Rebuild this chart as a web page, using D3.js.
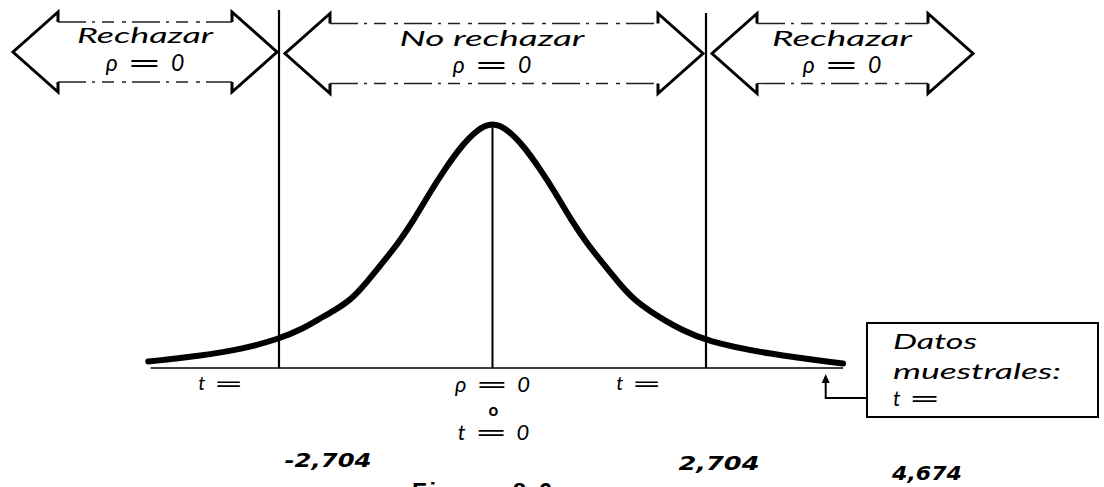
<!DOCTYPE html>
<html>
<head>
<meta charset="utf-8">
<script src="https://cdn.jsdelivr.net/npm/d3@7"></script>
<style>
  html, body { margin: 0; padding: 0; background: #fff; }
  svg { display: block; }
</style>
</head>
<body>
<svg id="chart"></svg>
<script>
const width = 1104;
const height = 487;

// curve: t value and height relative to the peak
const curveT = [-4.36, -3.7, -3.2, -2.7, -2.4, -2.2, -2.0, -1.8, -1.6, -1.4, -1.2, -1.0, -0.8, -0.6, -0.4, -0.2, 0,
                0.2, 0.4, 0.6, 0.8, 1.0, 1.2, 1.4, 1.6, 1.8, 2.0, 2.2, 2.4, 2.7, 3.5, 4.44];
const curveH = [0.026, 0.05, 0.075, 0.118, 0.16, 0.198, 0.235, 0.275, 0.345, 0.425, 0.505, 0.6, 0.71, 0.81, 0.9, 0.968, 1,
                0.968, 0.9, 0.81, 0.71, 0.6, 0.505, 0.425, 0.345, 0.275, 0.23, 0.19, 0.155, 0.11, 0.056, 0.018];

const critValues = [-2.704, 2.704];
const critLabels = ['-2,704', '2,704'];
const sampleLabel = '4,674';

const regionNames = ['Rechazar', 'No rechazar', 'Rechazar'];
const regionSub = 'ρ = 0';
const axisCenterLines = ['ρ = 0', 'o', 't = 0'];
const boxLines = ['Datos', 'muestrales:', 't ='];
const figureTitle = 'Figura 8.6';

const svg = d3.select('#chart').attr('width', width).attr('height', height);

const x = d3.scaleLinear().domain([-2.704, 2.704]).range([279, 706]);
const y = d3.scaleLinear().domain([0, 1]).range([368, 122]);

const scriptFont = 'Lato, "DejaVu Sans", sans-serif';

// "a = b" with a wide equals sign, each piece its own text
function eqLabel(parent, cx, yb, str, size, anchor) {
    const parts = str.split(' ');
    const g = parent.append('g');
    const common = s => s.attr('y', yb).attr('font-size', size)
        .attr('font-family', scriptFont).attr('font-style', 'italic');
    const tA = g.append('text').call(common).text(parts[0]);
    const tE = g.append('text')
        .attr('font-family', '"DejaVu Sans", sans-serif')
        .attr('font-size', size).text('=');
    const tB = parts[2] ? g.append('text').call(common).text(parts[2]) : null;
    const sx = 1.8;
    const gap = size * 0.4;
    const wA = tA.node().getComputedTextLength();
    const wE = tE.node().getComputedTextLength() * sx;
    const wB = tB ? tB.node().getComputedTextLength() : 0;
    const total = wA + gap + wE + (tB ? gap + wB : 0);
    const x0 = anchor === 'start' ? cx : cx - total / 2;
    tA.attr('x', x0);
    tE.attr('transform', `translate(${x0 + wA + gap},${yb}) scale(${sx},1)`);
    if (tB) tB.attr('x', x0 + wA + gap + wE + gap);
    return g;
}

// axis line
svg.append('line')
    .attr('x1', x(-4.33)).attr('x2', x(4.44))
    .attr('y1', y(0)).attr('y2', y(0))
    .attr('stroke', '#000').attr('stroke-width', 1.6);

// critical value lines
svg.selectAll('.crit').data(critValues)
    .enter().append('line')
    .attr('class', 'crit')
    .attr('x1', d => x(d)).attr('x2', d => x(d))
    .attr('y1', (d, i) => i === 0 ? 10 : 13)
    .attr('y2', y(0))
    .attr('stroke', '#000').attr('stroke-width', 2.2);

// centre line
svg.append('line')
    .attr('x1', x(0)).attr('x2', x(0))
    .attr('y1', y(1)).attr('y2', y(0))
    .attr('stroke', '#000').attr('stroke-width', 2);

// density curve
const pts = curveT.map((t, i) => ({t: t, h: curveH[i]}));
const line = d3.line()
    .x(d => x(d.t))
    .y(d => y(d.h))
    .curve(d3.curveBasis);

svg.append('path')
    .datum(pts)
    .attr('fill', 'none')
    .attr('stroke', '#000')
    .attr('stroke-width', 6)
    .attr('stroke-linecap', 'round')
    .attr('stroke-linejoin', 'round')
    .attr('d', line);

// double headed arrows over the regions
const arrowY = 52;
const headLen = 45;
const headHalf = 40;
const shaftHalf = 30;
const arrows = [
    {x0: 13, x1: x(-2.704) - 2, label: regionNames[0], cx: 145, dy: 0, w: 136},
    {x0: x(-2.704) + 6, x1: x(2.704) - 3, label: regionNames[1], cx: 492, dy: 3, w: 185},
    {x0: x(2.704) + 6, x1: 973, label: regionNames[2], cx: 842, dy: 3, w: 140}
];

arrows.forEach(a => {
    const g = svg.append('g');
    const cy = arrowY + a.dy * 0.5;
    const lx = a.x0 + headLen;
    const rx = a.x1 - headLen;
    g.append('path')
        .attr('d', `M${lx},${cy - shaftHalf} L${lx},${cy - headHalf} L${a.x0},${cy} L${lx},${cy + headHalf} L${lx},${cy + shaftHalf}`)
        .attr('fill', 'none').attr('stroke', '#000').attr('stroke-width', 3)
        .attr('stroke-linejoin', 'miter');
    g.append('path')
        .attr('d', `M${rx},${cy - shaftHalf} L${rx},${cy - headHalf} L${a.x1},${cy} L${rx},${cy + headHalf} L${rx},${cy + shaftHalf}`)
        .attr('fill', 'none').attr('stroke', '#000').attr('stroke-width', 3)
        .attr('stroke-linejoin', 'miter');
    [-shaftHalf, shaftHalf].forEach(off => {
        g.append('line')
            .attr('x1', lx).attr('x2', rx)
            .attr('y1', cy + off).attr('y2', cy + off)
            .attr('stroke', '#222').attr('stroke-width', 1.4)
            .attr('stroke-dasharray', '28,6,3,7,12,8,4,6');
    });
    g.append('text')
        .attr('x', a.cx).attr('y', 43 + a.dy)
        .attr('text-anchor', 'middle')
        .attr('font-family', scriptFont).attr('font-style', 'italic')
        .attr('font-size', 21)
        .attr('textLength', a.w).attr('lengthAdjust', 'spacingAndGlyphs')
        .text(a.label);
    eqLabel(g, a.cx, 71 + a.dy * 0.5, regionSub, 23, 'middle');
});

// labels under the axis
critValues.forEach(d => {
    eqLabel(svg, x(d) + (d < 0 ? -58 : -67), 390, 't =', 20, 'middle');
});

eqLabel(svg, x(0), 392, axisCenterLines[0], 22, 'middle');
svg.append('text')
    .attr('x', x(0) + 1).attr('y', 416)
    .attr('text-anchor', 'middle')
    .attr('font-family', scriptFont).attr('font-weight', 'bold')
    .attr('font-size', 17)
    .text(axisCenterLines[1]);
eqLabel(svg, x(0) + 1, 440, axisCenterLines[2], 22, 'middle');

// numeric values
const numStyle = s => s
    .attr('text-anchor', 'middle')
    .attr('font-family', '"DejaVu Sans", sans-serif')
    .attr('font-style', 'italic').attr('font-weight', 'bold')
    .attr('font-size', 19);

svg.selectAll('.cval').data(critValues)
    .enter().append('text')
    .attr('class', 'cval')
    .attr('x', d => x(d) + (d < 0 ? 49 : 13))
    .attr('y', (d, i) => i === 0 ? 467 : 470)
    .call(numStyle)
    .attr('textLength', (d, i) => i === 0 ? 87 : 81)
    .attr('lengthAdjust', 'spacingAndGlyphs')
    .text((d, i) => critLabels[i]);

svg.append('text')
    .attr('x', 927).attr('y', 480)
    .call(numStyle)
    .attr('textLength', 70).attr('lengthAdjust', 'spacingAndGlyphs')
    .text(sampleLabel);

// sample data box with connector
const box = {x: 867, y: 323, w: 231, h: 94};
svg.append('rect')
    .attr('x', box.x).attr('y', box.y)
    .attr('width', box.w).attr('height', box.h)
    .attr('fill', '#fff').attr('stroke', '#000').attr('stroke-width', 2);

svg.selectAll('.boxline').data(boxLines.slice(0, 2))
    .enter().append('text')
    .attr('class', 'boxline')
    .attr('x', 893)
    .attr('y', (d, i) => [349, 379][i])
    .attr('font-family', scriptFont).attr('font-style', 'italic')
    .attr('font-size', 22)
    .attr('textLength', (d, i) => [84, 168][i])
    .attr('lengthAdjust', 'spacingAndGlyphs')
    .text(d => d);
eqLabel(svg, 893, 406, boxLines[2], 21, 'start');

const arrowX = x(4.22);
svg.append('path')
    .attr('d', `M${box.x},398 L${arrowX},398 L${arrowX},381`)
    .attr('fill', 'none').attr('stroke', '#000').attr('stroke-width', 2);
svg.append('path')
    .attr('d', `M${arrowX - 4},383 L${arrowX},374 L${arrowX + 4},383 Z`)
    .attr('fill', '#000');

// figure caption, clipped at the bottom edge as in the source scan
svg.append('text')
    .attr('x', 412).attr('y', 500)
    .attr('font-family', '"Liberation Sans", Arial, sans-serif')
    .attr('font-weight', 'bold')
    .attr('font-size', 24)
    .attr('textLength', 140).attr('lengthAdjust', 'spacing')
    .text(figureTitle);
</script>
</body>
</html>
